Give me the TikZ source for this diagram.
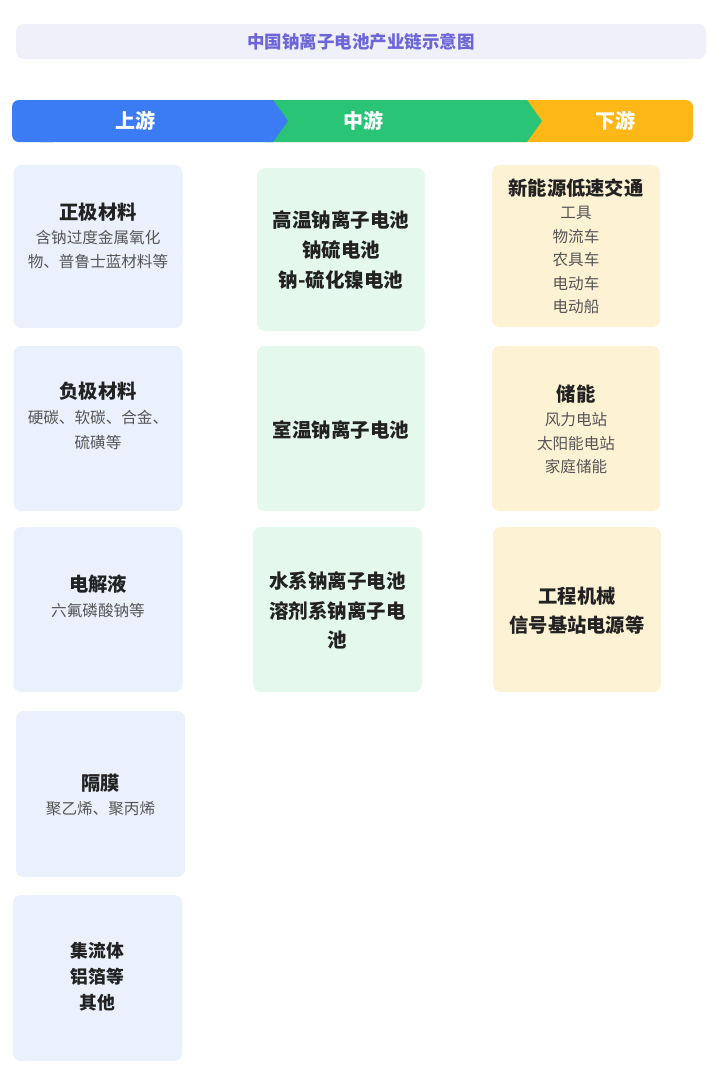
\documentclass[tikz,border=0pt]{standalone}
\usepackage{fontspec}
\setmainfont{Noto Sans CJK SC}

\definecolor{titlebg}{HTML}{EFF0FA}
\definecolor{titlefg}{HTML}{6C66D8}
\definecolor{upblue}{HTML}{3B7BF4}
\definecolor{midgreen}{HTML}{2AC477}
\definecolor{downorange}{HTML}{FDB716}
\definecolor{upfill}{HTML}{EAF0FC}
\definecolor{midfill}{HTML}{E5F8EE}
\definecolor{downfill}{HTML}{FEF2D5}
\definecolor{darktext}{HTML}{222222}
\definecolor{greytext}{HTML}{555555}

\tikzset{
  cardbox/.style={rectangle,rounded corners=8pt,inner sep=0pt,minimum width=169pt},
  upbox/.style={cardbox,fill=upfill},
  midbox/.style={cardbox,fill=midfill},
  downbox/.style={cardbox,fill=downfill},
  headtxt/.style={text=white,font=\fontsize{20}{22}\selectfont\bfseries,inner sep=0pt},
  cardtitle/.style={text=darktext,font=\fontsize{19.3}{22}\selectfont\bfseries,inner sep=0pt},
  cardsub/.style={text=greytext,font=\fontsize{15.6}{18}\selectfont,inner sep=0pt}
}

\begin{document}
\begin{tikzpicture}[x=1pt,y=-1pt]

  \useasboundingbox[fill=white] (0,0) rectangle (720,1071);

  % title bar
  \fill[titlebg,rounded corners=8pt] (16,24) rectangle (706,59);
  \node[text=titlefg,font=\fontsize{17.5}{20}\selectfont\bfseries,inner sep=0pt] (title) at (361,41.5) {中国钠离子电池产业链示意图};

  % stage band
  \fill[downorange,rounded corners=7pt] (515,100) rectangle (693,142);
  \fill[midgreen] (265,100) -- (527,100) -- (542,121) -- (527,142) -- (265,142) -- cycle;
  \fill[upblue,rounded corners=7pt] (12,100) rectangle (60,142);
  \fill[upblue] (40,100) -- (273,100) -- (288,121) -- (273,142) -- (40,142) -- cycle;
  \node[headtxt] (up) at (135,121) {上游};
  \node[headtxt] (mid) at (363,121) {中游};
  \node[headtxt] (down) at (615,121) {下游};

  % upstream cards
  \node[upbox,minimum height=163pt] (zj) at (98,246.5) {};
  \node[upbox,minimum height=165pt] (fj) at (98,428.5) {};
  \node[upbox,minimum height=165pt] (dj) at (98,609.5) {};
  \node[upbox,minimum height=166pt] (gm) at (100.5,794) {};
  \node[upbox,minimum height=166pt] (jl) at (97.5,978) {};

  \node[cardtitle] (zjt) at (98,212) {正极材料};
  \foreach [count=\n] \t in {含钠过度金属氧化,物、普鲁士蓝材料等} {
    \node[cardsub] (zjs\n) at (98,214.5+23.5*\n) {\t};
  };
  \node[cardtitle] (fjt) at (98,391) {负极材料};
  \foreach [count=\n] \t in {硬碳、软碳、合金、,硫磺等} {
    \node[cardsub] (fjs\n) at (98,393.5+24.5*\n) {\t};
  };
  \node[cardtitle] (djt) at (98,584) {电解液};
  \node[cardsub] (djs) at (98,611) {六氟磷酸钠等};
  \node[cardtitle] (gmt) at (100.5,783) {隔膜};
  \node[cardsub] (gms) at (100.5,809) {聚乙烯、聚丙烯};
  \foreach [count=\n] \t in {集流体,铝箔等,其他} {
    \node[cardtitle,font=\fontsize{17.8}{20}\selectfont\bfseries] (jl\n) at (97.5,925+26*\n) {\t};
  };

  % midstream cards
  \node[midbox,minimum width=168pt,minimum height=163pt] (gw) at (341,249.5) {};
  \node[midbox,minimum width=168pt,minimum height=165pt] (sw) at (341,428.5) {};
  \node[midbox,minimum width=169pt,minimum height=165pt] (sx) at (337.5,609.5) {};

  \foreach [count=\n] \t in {高温钠离子电池,钠硫电池,钠-硫化镍电池} {
    \node[cardtitle,font=\fontsize{19.5}{22}\selectfont\bfseries] (gw\n) at (341,190+30*\n) {\t};
  };
  \node[cardtitle,font=\fontsize{19.5}{22}\selectfont\bfseries] (swt) at (341,430) {室温钠离子电池};
  \foreach [count=\n] \t in {水系钠离子电池,溶剂系钠离子电,池} {
    \node[cardtitle,font=\fontsize{19.5}{22}\selectfont\bfseries] (sx\n) at (337.5,551.5+29.5*\n) {\t};
  };

  % downstream cards
  \node[downbox,minimum width=168pt,minimum height=162pt] (xn) at (576,246) {};
  \node[downbox,minimum width=168pt,minimum height=165pt] (cn) at (576,428.5) {};
  \node[downbox,minimum width=168pt,minimum height=165pt] (gc) at (577,609.5) {};

  \node[cardtitle] (xnt) at (576,188) {新能源低速交通};
  \foreach [count=\n] \t in {工具,物流车,农具车,电动车,电动船} {
    \node[cardsub] (xns\n) at (576,189.5+23.5*\n) {\t};
  };
  \node[cardtitle] (cnt) at (576,394) {储能};
  \foreach [count=\n] \t in {风力电站,太阳能电站,家庭储能} {
    \node[cardsub] (cns\n) at (576,396.5+23.5*\n) {\t};
  };
  \node[cardtitle] (gc1) at (577,596) {工程机械};
  \node[cardtitle] (gc2) at (577,625) {信号基站电源等};

\end{tikzpicture}
\end{document}
